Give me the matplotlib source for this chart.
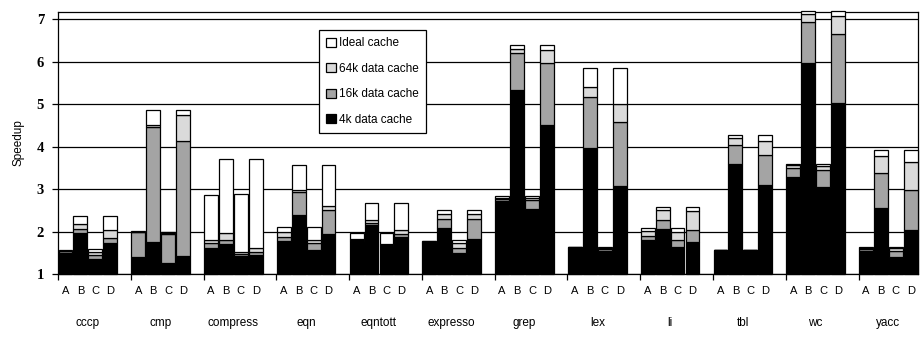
import matplotlib
matplotlib.use("Agg")
import matplotlib.pyplot as plt
import numpy as np
from matplotlib.patches import Patch
from matplotlib.transforms import blended_transform_factory

benchmarks = ["cccp", "cmp", "compress", "eqn", "eqntott", "expresso",
              "grep", "lex", "li", "tbl", "wc", "yacc"]
configs = ["A", "B", "C", "D"]

# cumulative speedup per benchmark, per configuration A..D
speed_4k = [
    [1.50, 1.96, 1.35, 1.72], [1.40, 1.75, 1.26, 1.42], [1.62, 1.70, 1.42, 1.45],
    [1.78, 2.39, 1.57, 1.95], [1.78, 2.15, 1.65, 1.88], [1.72, 2.08, 1.50, 1.82],
    [2.72, 5.33, 2.52, 4.50], [1.62, 3.96, 1.55, 3.07], [1.80, 2.07, 1.64, 1.76],
    [1.56, 3.60, 1.56, 3.09], [3.29, 5.96, 3.05, 5.02], [1.55, 2.55, 1.40, 2.04]]
speed_16k = [
    [1.53, 2.05, 1.45, 1.84], [1.98, 4.45, 1.93, 4.12], [1.72, 1.80, 1.47, 1.52],
    [1.88, 2.92, 1.72, 2.50], [1.80, 2.20, 1.68, 1.95], [1.75, 2.30, 1.62, 2.30],
    [2.76, 6.20, 2.75, 5.96], [1.63, 5.17, 1.58, 4.58], [1.90, 2.27, 1.80, 2.04],
    [1.56, 4.04, 1.56, 3.80], [3.50, 6.94, 3.45, 6.66], [1.58, 3.38, 1.55, 2.98]]
speed_64k = [
    [1.55, 2.18, 1.52, 2.03], [2.00, 4.50, 1.97, 4.74], [1.80, 1.97, 1.52, 1.60],
    [1.98, 2.97, 1.80, 2.60], [1.82, 2.28, 1.71, 2.03], [1.77, 2.42, 1.72, 2.42],
    [2.80, 6.30, 2.80, 6.27], [1.63, 5.41, 1.60, 5.00], [2.02, 2.51, 2.00, 2.48],
    [1.56, 4.20, 1.56, 4.12], [3.56, 7.12, 3.55, 7.07], [1.61, 3.77, 1.60, 3.64]]
speed_ideal = [
    [1.56, 2.37, 1.58, 2.37], [2.01, 4.85, 2.00, 4.85], [2.86, 3.70, 2.88, 3.70],
    [2.11, 3.56, 2.11, 3.56], [1.97, 2.68, 1.97, 2.68], [1.78, 2.51, 1.80, 2.51],
    [2.84, 6.39, 2.84, 6.39], [1.64, 5.86, 1.63, 5.86], [2.08, 2.57, 2.09, 2.57],
    [1.56, 4.27, 1.56, 4.27], [3.58, 7.19, 3.58, 7.19], [1.63, 3.92, 1.63, 3.92]]

series_names = ["4k data cache", "16k data cache", "64k data cache", "Ideal cache"]
series_colors = ["black", "#a4a4a4", "#dadada", "white"]

sans = ["Liberation Sans", "DejaVu Sans"]
serif = ["Liberation Serif", "DejaVu Serif"]

fig = plt.figure(figsize=(9.21, 3.37), dpi=100)
ax = fig.add_axes([0.063, 0.187, 0.934, 0.777])

step = 0.205
width = 0.19
n_groups = len(benchmarks)
xs = np.array([[i + step / 2 + j * step for j in range(4)] for i in range(n_groups)])

levels = [np.ones((n_groups, 4)), np.array(speed_4k), np.array(speed_16k),
          np.array(speed_64k), np.array(speed_ideal)]

ax.set_axisbelow(True)
for k in range(4):
    bottom = levels[k]
    height = levels[k + 1] - levels[k]
    bars = ax.bar(xs.ravel(), height.ravel(), width=width, bottom=bottom.ravel(),
                  color=series_colors[k], edgecolor="black", linewidth=0.9, zorder=3)
    for b in bars:
        b.set_clip_on(False)

ax.set_xlim(0, n_groups - 1 + 4 * step)
ax.set_ylim(1, 7.165)
ax.set_yticks(range(1, 8))
ax.set_yticklabels([str(v) for v in range(1, 8)], fontfamily=serif,
                   fontweight="bold", fontsize=10.5)
ax.yaxis.grid(True, color="black", linewidth=0.9)
ax.tick_params(axis="y", length=4, width=0.9, pad=6, color="black")

ax.set_xticks(xs.ravel())
ax.set_xticklabels(configs * n_groups, fontfamily=sans, fontsize=8)
ax.tick_params(axis="x", which="major", length=0, pad=9)
ax.set_xticks(np.arange(n_groups), minor=True)
ax.tick_params(axis="x", which="minor", length=4, width=0.9, color="black")

trans = blended_transform_factory(ax.transData, fig.transFigure)
for i, name in enumerate(benchmarks):
    ax.text(i + 2 * step, 1 - 323 / 337, name, transform=trans, ha="center",
            va="center", fontfamily=sans, fontsize=8.5)

for s in ax.spines.values():
    s.set_color("black")
    s.set_linewidth(0.9)

ax.set_ylabel("Speedup", fontfamily=sans, fontsize=8.5, labelpad=9)

handles = [Patch(facecolor=series_colors[k], edgecolor="black", linewidth=0.9)
           for k in range(3, -1, -1)]
labels = [series_names[k] for k in range(3, -1, -1)]
leg = ax.legend(handles, labels, loc="upper left", bbox_to_anchor=(0.3035, 0.931),
                borderaxespad=0, frameon=True, fancybox=False, framealpha=1,
                edgecolor="black", prop={"family": sans, "size": 8.5},
                handlelength=0.8, handleheight=0.8, handletextpad=0.3,
                labelspacing=1.15, borderpad=0.6)
leg.get_frame().set_linewidth(0.9)
leg.set_zorder(5)

fig.savefig("out.png", dpi=100)
